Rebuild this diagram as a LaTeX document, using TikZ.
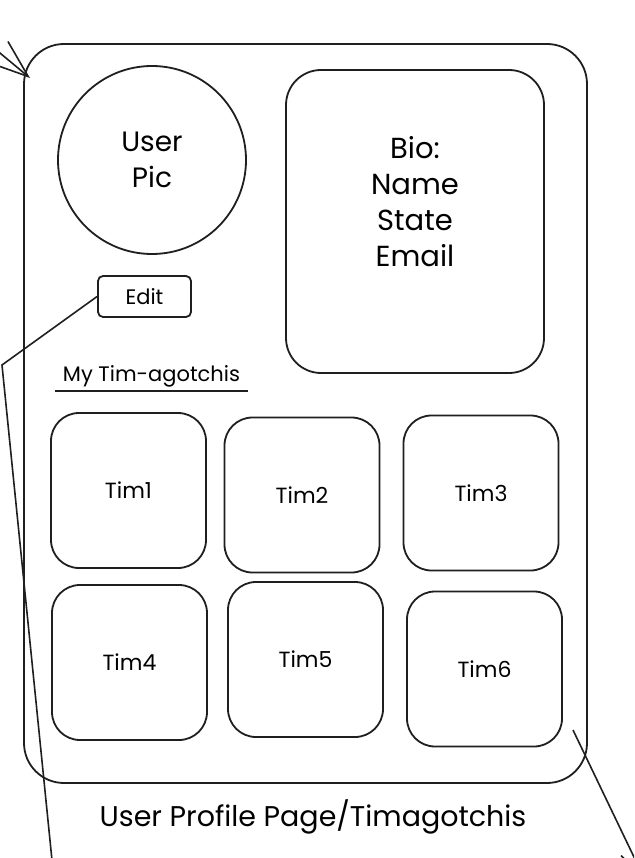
\documentclass[tikz,border=0pt]{standalone}
\usepackage{fontspec}
\setmainfont{Poppins}
\usetikzlibrary{arrows.meta}
\begin{document}
\begin{tikzpicture}[x=1pt,y=-1pt,
  sk/.style={draw=black!88, line width=1.8pt},
  card/.style={sk, rounded corners=28pt, minimum width=155pt, minimum height=155pt, inner sep=0pt, font=\fontsize{22}{26}\selectfont},
  lbl/.style={align=center, inner sep=0pt},
  conn/.style={draw=black!88, line width=1.6pt}
]
\useasboundingbox (0,0) rectangle (634,858);
\clip (0,0) rectangle (634,858);
\fill[white] (0,0) rectangle (634,858);

% outer frame
\node[sk, rounded corners=40pt, minimum width=563pt, minimum height=739pt, inner sep=0pt] (outer) at (305.5,413.5) {};

% user picture
\node[sk, circle, minimum size=188pt, inner sep=0pt, lbl, font=\fontsize{28}{36}\selectfont] (pic) at (152,160) {User\\Pic};

% bio box
\node[sk, rounded corners=35pt, minimum width=258pt, minimum height=303pt, inner sep=0pt] (bio) at (415,221.5) {};
\node[lbl, font=\fontsize{29}{36}\selectfont] (biotext) at (415,202) {Bio:\\Name\\State\\Email};

% edit button
\node[sk, rounded corners=5pt, minimum width=93pt, minimum height=41pt, inner sep=0pt, font=\fontsize{21}{24}\selectfont] (edit) at (144.5,296.5) {Edit};

% section heading
\node[lbl, font=\fontsize{21}{25}\selectfont, minimum width=193pt, minimum height=30pt] (mytim) at (151.5,376) {My Tim-agotchis};
\draw[sk] (mytim.south west) -- (mytim.south east);

% tim cards
\node[card] (tim1) at (128.5,490.5) {Tim1};
\node[card] (tim2) at (302,495) {Tim2};
\node[card] (tim3) at (481,493) {Tim3};
\node[card] (tim4) at (129.5,662.5) {Tim4};
\node[card] (tim5) at (305.5,659.5) {Tim5};
\node[card] (tim6) at (484.5,669) {Tim6};

% title
\node[lbl, font=\fontsize{28.5}{32}\selectfont] (title) at (313,817) {User Profile Page/Timagotchis};

% connectors
\coordinate (tlstart) at (-47,14);
\coordinate (tltip) at (30,78);
\draw[conn, -{Straight Barb[length=38pt, width=28pt]}] (tlstart) -- (tltip);

\coordinate (bend) at (2,365);
\coordinate (blend) at (54,880);
\draw[conn] (edit.west) -- (bend) -- (blend);

\coordinate (brstart) at (573,730);
\coordinate (brtip) at (645,880);
\draw[conn, -{Straight Barb[length=30pt, width=22pt]}] (brstart) -- (brtip);
\end{tikzpicture}
\end{document}
